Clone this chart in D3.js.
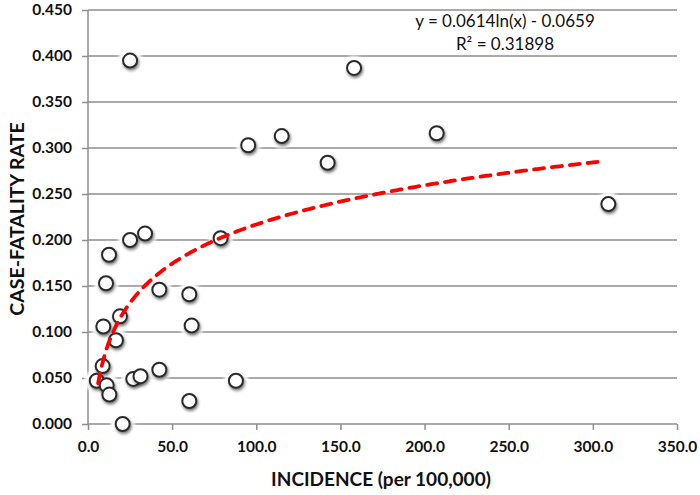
<!DOCTYPE html>
<html><head><meta charset="utf-8">
<script src="https://cdn.jsdelivr.net/npm/d3@7"></script>
<style>html,body{margin:0;padding:0;background:#fff;}svg{display:block;}</style>
</head><body>
<svg id="chart" width="700" height="495"></svg>
<script>
const incidence = [25.0,158.1,95.2,115.1,142.4,207.2,309.2,78.8,25.0,33.9,12.5,10.7,42.4,60.2,19.0,9.1,61.6,16.6,8.7,5.2,11.1,12.7,26.9,31.2,42.4,87.9,60.2,20.6];
const cfr =       [0.395,0.387,0.303,0.313,0.284,0.316,0.239,0.202,0.200,0.207,0.184,0.153,0.146,0.141,0.117,0.106,0.107,0.091,0.063,0.047,0.042,0.032,0.049,0.052,0.059,0.047,0.025,0.000];
const xTicks = [0,50,100,150,200,250,300,350];
const yTicks = [0,0.05,0.10,0.15,0.20,0.25,0.30,0.35,0.40,0.45];
const trendA = 0.0614, trendB = -0.0659;
const trendRange = [6, 304];
const eqLines = ["y = 0.0614ln(x) - 0.0659", "R² = 0.31898"];

const svg = d3.select("#chart");
const x = d3.scaleLinear().domain([0,350]).range([88,677]);
const y = d3.scaleLinear().domain([0,0.45]).range([424,10]);
const font = "Lato, 'Open Sans', sans-serif";
const grid = "#8e8e8e";

const defs = svg.append("defs");
const glow = defs.append("filter").attr("id","glow").attr("x","-50%").attr("y","-50%").attr("width","200%").attr("height","200%");
glow.append("feGaussianBlur").attr("stdDeviation",1.6);
const sh = defs.append("filter").attr("id","shadow").attr("x","-50%").attr("y","-50%").attr("width","200%").attr("height","200%");
sh.append("feDropShadow").attr("dx",1).attr("dy",2).attr("stdDeviation",1.4).attr("flood-color","#000").attr("flood-opacity",0.55);

// gridlines
svg.append("g").selectAll("line").data(yTicks.slice(1)).join("line")
  .attr("x1",x(0)).attr("x2",x(350)).attr("y1",d=>y(d)).attr("y2",d=>y(d))
  .attr("stroke",grid).attr("stroke-width",1.5);

// axes
const yAxis = svg.append("g").attr("transform",`translate(${x(0)},0)`)
  .call(d3.axisLeft(y).tickValues(yTicks).tickFormat(d3.format(".3f")).tickSize(6).tickPadding(10));
const xAxis = svg.append("g").attr("transform",`translate(0,${y(0)})`)
  .call(d3.axisBottom(x).tickValues(xTicks).tickFormat(d3.format(".1f")).tickSize(6).tickPadding(6));
[yAxis,xAxis].forEach(a=>{
  a.select(".domain").attr("stroke",grid).attr("stroke-width",1.5).attr("d", a===yAxis ? `M0,${y(0.45)}V${y(0)}` : `M${x(0)},0H${x(350)}`);
  a.selectAll(".tick line").attr("stroke",grid).attr("stroke-width",1.5);
  a.selectAll(".tick text").attr("fill","#111").attr("font-family",font).attr("font-weight","bold").attr("font-size",15.5);
});
xAxis.selectAll(".tick text").attr("dy","1.05em");

const pts = incidence.map((v,i)=>({x:v,y:cfr[i]}));

// white glow halos
svg.append("g").selectAll("circle").data(pts).join("circle")
  .attr("cx",d=>x(d.x)).attr("cy",d=>y(d.y)).attr("r",12)
  .attr("fill","#fff").attr("filter","url(#glow)");

// markers
svg.append("g").selectAll("circle").data(pts).join("circle")
  .attr("cx",d=>x(d.x)).attr("cy",d=>y(d.y)).attr("r",7)
  .attr("fill","#fff").attr("stroke","#2a2a2a").attr("stroke-width",2)
  .attr("filter","url(#shadow)");

// trendline
const tx = d3.range(trendRange[0], trendRange[1]+0.01, 1);
svg.append("path").datum(tx)
  .attr("d", d3.line().x(d=>x(d)).y(d=>y(trendA*Math.log(d)+trendB)))
  .attr("fill","none").attr("stroke","#ff0000").attr("stroke-width",3.8)
  .attr("stroke-dasharray","10,8").attr("stroke-linecap","round");

// equation
svg.append("g").selectAll("text").data(eqLines).join("text")
  .attr("x",505).attr("y",(d,i)=>27+i*23).attr("text-anchor","middle")
  .attr("font-family",font).attr("font-size",17).attr("fill","#111").text(d=>d);

// axis titles
svg.append("text").attr("x",381).attr("y",486).attr("text-anchor","middle")
  .attr("font-family",font).attr("font-weight","bold").attr("font-size",19).attr("fill","#111")
  .text("INCIDENCE (per 100,000)");
svg.append("text").attr("transform","translate(24,219) rotate(-90)").attr("text-anchor","middle")
  .attr("font-family",font).attr("font-weight","bold").attr("font-size",19.5).attr("fill","#111")
  .text("CASE-FATALITY RATE");
</script>
</body></html>
